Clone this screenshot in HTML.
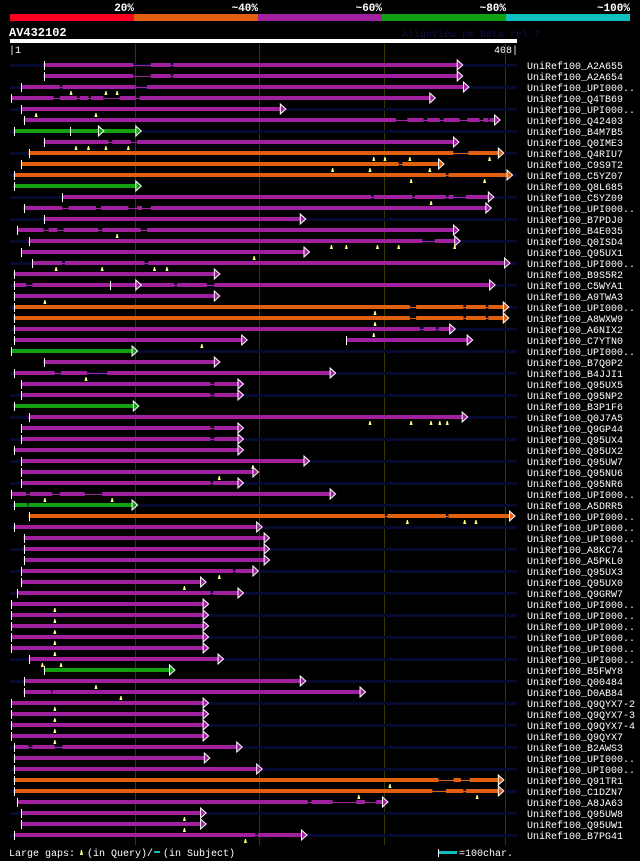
<!DOCTYPE html>
<html><head><meta charset="utf-8">
<style>
html,body{margin:0;padding:0;background:#000;}
svg{display:block;}
text{font-family:"Liberation Mono","DejaVu Sans Mono",monospace;}
</style></head>
<body>
<svg id="chart" width="640" height="861" viewBox="0 0 640 861" xmlns="http://www.w3.org/2000/svg">
<rect x="0" y="0" width="640" height="861" fill="#000"/>
<g id="header">
  <rect x="10" y="14" width="124" height="7" fill="#ff0022"/>
  <rect x="134" y="14" width="124" height="7" fill="#e06010"/>
  <rect x="258" y="14" width="124" height="7" fill="#a020a0"/>
  <rect x="382" y="14" width="124" height="7" fill="#10a010"/>
  <rect x="506" y="14" width="124" height="7" fill="#10c0c0"/>
  <g font-size="11" font-weight="bold" fill="#fff" text-anchor="end">
    <text x="134" y="11">20%</text>
    <text x="258" y="11">~40%</text>
    <text x="382" y="11">~60%</text>
    <text x="506" y="11">~80%</text>
    <text x="630" y="11">~100%</text>
  </g>
  <text x="9" y="36" font-size="12" font-weight="bold" fill="#fff">AV432102</text>
  <text x="402" y="37" font-size="10" fill="#101048">AlignView.pm Beta rel.7</text>
  <rect x="10" y="39" width="507" height="4" fill="#fff"/>
  <text x="9" y="53" font-size="10" fill="#fff">|1</text>
  <text x="518" y="53" font-size="10" fill="#fff" text-anchor="end">408|</text>
</g>
<g id="grid"></g>
<g id="rows"></g>
<g id="legend">
  <text x="9" y="856" font-size="10" fill="#fff">Large gaps:</text>
  <polygon points="81,850 82,850 83,855 80,855" fill="#ffff80"/>
  <text x="87" y="856" font-size="10" fill="#fff">(in Query)/</text>
  <rect x="154" y="851" width="6" height="2" fill="#10c0c0"/>
  <text x="163" y="856" font-size="10" fill="#fff">(in Subject)</text>
  <rect x="438" y="849" width="1" height="8" fill="#fff"/>
  <rect x="439" y="851" width="18" height="3" fill="#10c0c0"/>
  <text x="459" y="856" font-size="10" fill="#fff">=100char.</text>
</g>
</svg>
<script>
const queryLength = 408;
const names = ["UniRef100_A2A655","UniRef100_A2A654","UniRef100_UPI000..","UniRef100_Q4TB69","UniRef100_UPI000..","UniRef100_Q42403","UniRef100_B4M7B5","UniRef100_Q0IME3","UniRef100_Q4RIU7","UniRef100_C9S9T2","UniRef100_C5YZ07","UniRef100_Q8L685","UniRef100_C5YZ09","UniRef100_UPI000..","UniRef100_B7PDJ0","UniRef100_B4E035","UniRef100_Q0ISD4","UniRef100_Q95UX1","UniRef100_UPI000..","UniRef100_B9S5R2","UniRef100_C5WYA1","UniRef100_A9TWA3","UniRef100_UPI000..","UniRef100_A8WXW9","UniRef100_A6NIX2","UniRef100_C7YTN0","UniRef100_UPI000..","UniRef100_B7Q0P2","UniRef100_B4JJI1","UniRef100_Q95UX5","UniRef100_Q95NP2","UniRef100_B3P1F6","UniRef100_Q0J7A5","UniRef100_Q9GP44","UniRef100_Q95UX4","UniRef100_Q95UX2","UniRef100_Q95UW7","UniRef100_Q95NU6","UniRef100_Q95NR6","UniRef100_UPI000..","UniRef100_A5DRR5","UniRef100_UPI000..","UniRef100_UPI000..","UniRef100_UPI000..","UniRef100_A8KC74","UniRef100_A5PKL0","UniRef100_Q95UX3","UniRef100_Q95UX0","UniRef100_Q9GRW7","UniRef100_UPI000..","UniRef100_UPI000..","UniRef100_UPI000..","UniRef100_UPI000..","UniRef100_UPI000..","UniRef100_UPI000..","UniRef100_B5FWY8","UniRef100_Q00484","UniRef100_D0AB84","UniRef100_Q9QYX7-2","UniRef100_Q9QYX7-3","UniRef100_Q9QYX7-4","UniRef100_Q9QYX7","UniRef100_B2AWS3","UniRef100_UPI000..","UniRef100_UPI000..","UniRef100_Q91TR1","UniRef100_C1DZN7","UniRef100_A8JA63","UniRef100_Q95UW8","UniRef100_Q95UW1","UniRef100_B7PG41"];
const identityClass = ["p","p","p","p","p","p","g","p","o","o","o","g","p","p","p","p","p","p","p","p","p","p","o","o","p","p","g","p","p","p","p","g","p","p","p","p","p","p","p","p","g","o","p","p","p","p","p","p","p","p","p","p","p","p","p","g","p","p","p","p","p","p","p","p","p","o","o","p","p","p","p"];
const hits = [
 [[[28,100],[114,130],[132,360]]],
 [[[28,100],[114,130],[132,360]]],
 [[[10,41],[43,102],[111,365]]],
 [[[2,36],[41,55],[57,64],[66,76],[89,102],[105,338]]],
 [[[10,218]]],
 [[[12,311],[320,333],[336,346],[349,362],[368,378],[381,385],[386,390]]],
 [[[4,102]],[[49,72]]],
 [[[28,80],[83,98],[103,357]]],
 [[[16,357],[369,393]]],
 [[[10,313],[316,345]]],
 [[[4,351],[353,400]]],
 [[[4,102]]],
 [[[43,291],[293,324],[326,351],[353,357],[367,385]]],
 [[[12,43],[48,70],[74,96],[103,107],[114,383]]],
 [[[28,234]]],
 [[[7,28],[32,39],[44,72],[75,106],[111,357]]],
 [[[16,332],[342,358]]],
 [[[10,237]]],
 [[[19,43],[45,109],[112,398]]],
 [[[4,165]]],
 [[[4,14],[19,102],[102,133],[135,159],[165,386]],[[81,102]]],
 [[[4,165]]],
 [[[4,322],[327,365],[367,383],[385,397]]],
 [[[4,322],[327,365],[367,383],[385,397]]],
 [[[4,330],[333,343],[345,354]]],
 [[[4,187]],[[271,368]]],
 [[[2,99]]],
 [[[28,165]]],
 [[[4,37],[42,63],[79,258]]],
 [[[10,162],[165,184]]],
 [[[10,162],[165,184]]],
 [[[4,100]]],
 [[[16,364]]],
 [[[10,162],[165,184]]],
 [[[10,162],[165,184]]],
 [[[4,184]]],
 [[[10,237]]],
 [[[10,196]]],
 [[[10,162],[164,184]]],
 [[[2,14],[17,35],[41,61],[75,258]]],
 [[[4,15],[16,99]]],
 [[[16,302],[304,351],[353,402]]],
 [[[4,199]]],
 [[[12,205]]],
 [[[12,205]]],
 [[[12,205]]],
 [[[10,180],[182,196]]],
 [[[10,154]]],
 [[[7,162],[164,184]]],
 [[[2,156]]],
 [[[2,156]]],
 [[[2,156]]],
 [[[2,156]]],
 [[[2,156]]],
 [[[16,168]]],
 [[[28,129]]],
 [[[12,234]]],
 [[[12,34],[35,282]]],
 [[[2,156]]],
 [[[2,156]]],
 [[[2,156]]],
 [[[2,156]]],
 [[[4,16],[19,37],[43,183]]],
 [[[4,157]]],
 [[[4,199]]],
 [[[4,345],[357,363],[370,393]]],
 [[[4,340],[351,365],[367,393]]],
 [[[7,240],[243,260],[279,286],[295,300]]],
 [[[10,154]]],
 [[[10,154]]],
 [[[4,198],[200,235]]]
];
const queryGaps = [[],[],[50,78,87],[],[22,70],[],[],[54,64,78,96],[293,302,322,386],[260,290,338],[323,382],[],[339],[],[],[87],[259,271,296,313,358],[197],[38,75,117,127],[],[],[29],[294],[294],[293],[155],[],[],[62],[],[],[],[290,323,339,346,352],[],[],[],[196],[169],[],[29,83],[],[320,366,375],[],[],[],[],[169],[141],[],[37],[37],[37],[37],[37],[27,42],[],[70],[90],[37],[37],[37],[37],[],[],[],[306],[281,376],[],[141],[141],[190]];
const gridTicks = [101, 201, 301, 398];

const NS = "http://www.w3.org/2000/svg";
const X0 = 10, X1 = 517, Y0 = 65, DY = 11;
function xScale(r){ return X0 + (r-1)*(X1-X0)/(queryLength-1); }
function yRow(i){ return Y0 + i*DY; }
const colors = {p:"#a020a0", o:"#e06010", g:"#10a010"};
function mk(tag, attrs, parent){
  const el = document.createElementNS(NS, tag);
  for (const k in attrs) el.setAttribute(k, attrs[k]);
  parent.appendChild(el);
  return el;
}
const grid = document.getElementById("grid");
gridTicks.forEach(function(t){
  const l = mk("rect", {x: Math.round(xScale(t)), y: 44, width: 1, height: 801, fill: "#3a3400"}, grid);
  
  
});
const rowsG = document.getElementById("rows");
names.forEach(function(name, i){
  const y = yRow(i);
  const g = mk("g", {}, rowsG);
  
  
  if (i % 2 === 0) {
    const bg = mk("rect", {x: X0, y: y-1, width: X1-X0, height: 3, fill: "#060a30"}, g);
    
    
  }
  const c = colors[identityClass[i]];
  hits[i].forEach(function(hit){
    const s = hit[0][0], e = hit[hit.length-1][1];
    const conn = mk("rect", {x: xScale(s), y: y, width: xScale(e)-xScale(s), height: 1, fill: c}, g);
    
    
    hit.forEach(function(seg){
      const b = mk("rect", {x: xScale(seg[0]), y: y-2, width: Math.max(1, xScale(seg[1])-xScale(seg[0])), height: 4, fill: c}, g);
      
      
    });
    const tk = mk("rect", {x: Math.round(xScale(s)), y: y-4, width: 1, height: 9, fill: "#fff"}, g);
    
    
    const ex = xScale(e);
    const ar = mk("polygon", {points: ex+","+(y-5)+" "+(ex+5.5)+","+y+" "+ex+","+(y+5), fill: c, stroke: "#fff", "stroke-width": 1}, g);
    
    
  });
  queryGaps[i].forEach(function(q){
    const qx = xScale(q);
    const m = mk("polygon", {points: (qx-0.5)+","+(y+4)+" "+(qx+0.5)+","+(y+4)+" "+(qx+1.5)+","+(y+8)+" "+(qx-1.5)+","+(y+8), fill: "#ffff80"}, g);
    
    
  });
  const t = mk("text", {x: 527, y: y+4, "font-size": 10, fill: "#fff"}, g);
  t.textContent = name;
  
  
});
</script>
</body></html>
